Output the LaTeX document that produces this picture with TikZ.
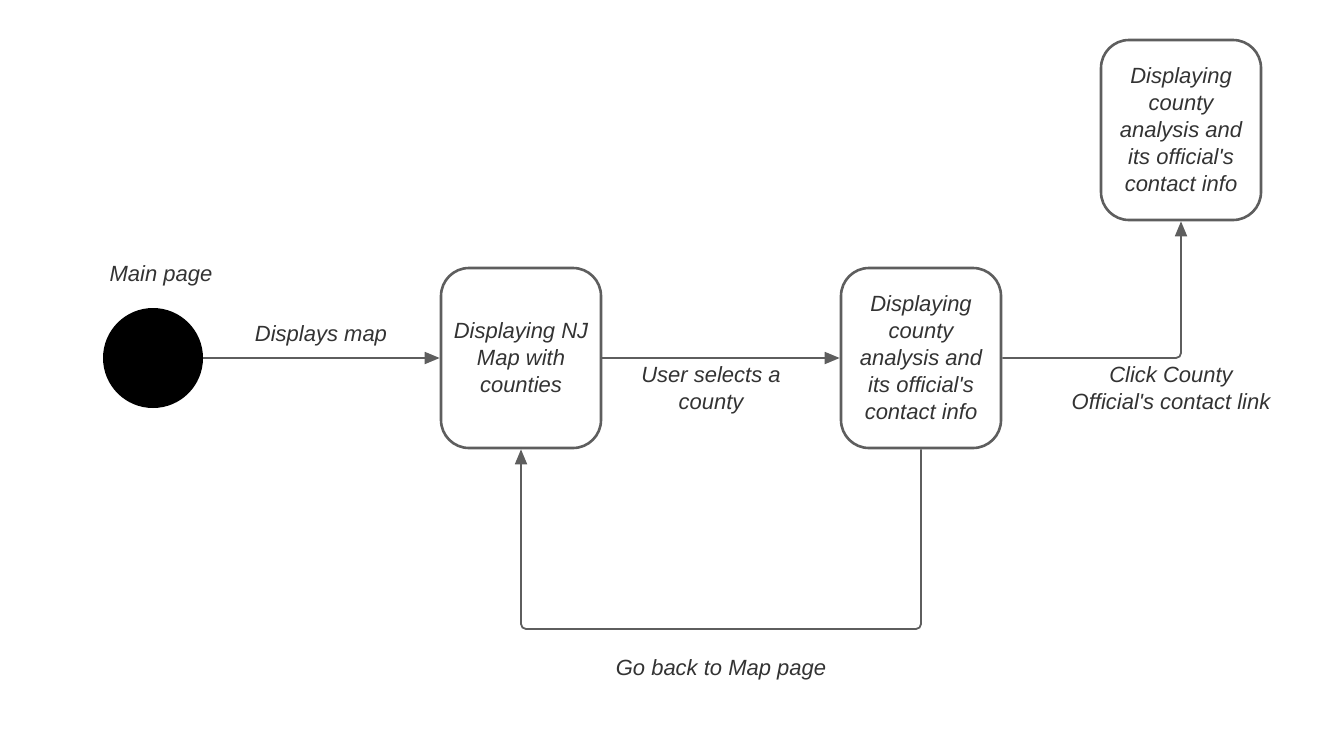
\documentclass[tikz,border=0pt]{standalone}
\usepackage{fontspec}
\setmainfont{Liberation Sans}
\usepackage{xcolor}
\usetikzlibrary{arrows.meta}
\definecolor{edgegray}{HTML}{5E5E5E}
\definecolor{textgray}{HTML}{333333}

\begin{document}
\begin{tikzpicture}[x=1pt,y=-1pt,
    state/.style={draw=edgegray, line width=2.6pt, rounded corners=28pt, minimum width=160pt, minimum height=180pt, align=center, text=textgray, font=\fontsize{22}{27}\selectfont\itshape},
    lbl/.style={align=center, text=textgray, font=\fontsize{22}{27}\selectfont\itshape},
    flow/.style={draw=edgegray, line width=1.8pt, rounded corners=5pt, -{Triangle[length=15pt,width=12pt]}}]
    \useasboundingbox (0,0) rectangle (1322,742);
    \node [circle, fill=black, minimum size=100pt, inner sep=0pt] (start) at (153,358) {};
    \node [lbl] (mainlbl) at (161,276) {Main page};
    \node [state] (map) at (521,358) {Displaying NJ\\Map with\\counties};
    \node [state] (county) at (921,358) {Displaying\\county\\analysis and\\its official\textquotesingle s\\contact info};
    \node [state] (official) at (1181,130) {Displaying\\county\\analysis and\\its official\textquotesingle s\\contact info};
    \draw [flow] (start) -- (map);
    \draw [flow] (map) -- (county);
    \draw [flow] (county.east) -| (official.south);
    \draw [flow] (county.south) -- (921,629) -| (map.south);
    \node [lbl] (lblmap) at (321,336) {Displays map};
    \node [lbl] (lblsel) at (711,390) {User selects a\\county};
    \node [lbl] (lblclick) at (1171,388) {Click County\\Official\textquotesingle s contact link};
    \node [lbl] (lblback) at (721,670) {Go back to Map page};
\end{tikzpicture}
\end{document}
